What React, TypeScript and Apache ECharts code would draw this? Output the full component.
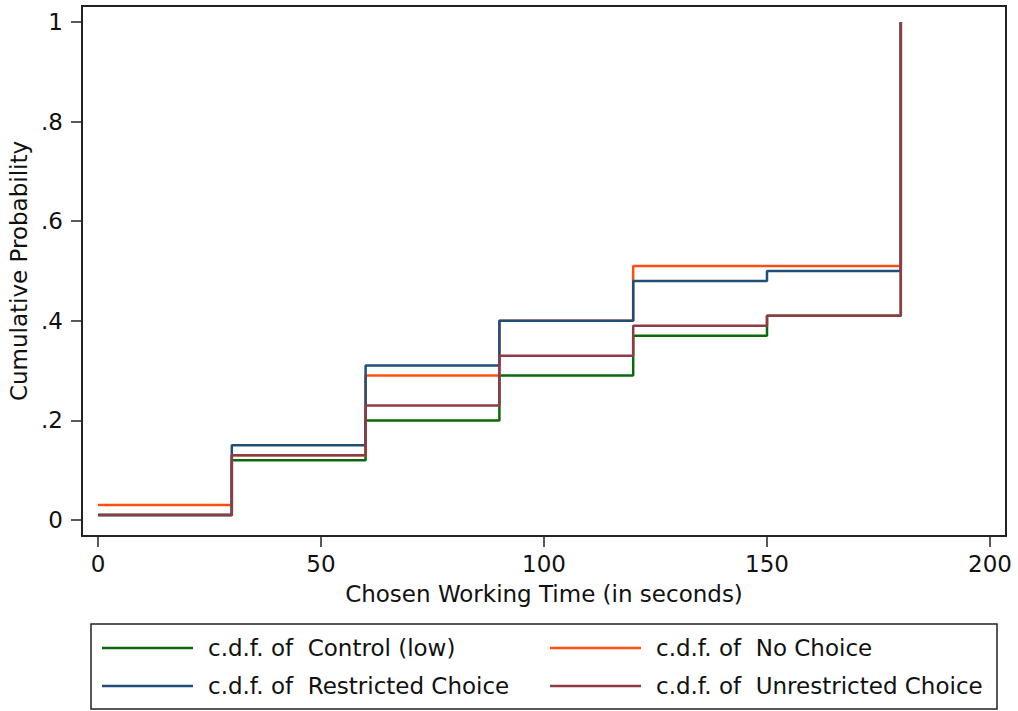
import React, { useEffect, useRef } from "react";
import * as echarts from "echarts";

const times = [0, 30, 60, 90, 120, 150, 180];
const controlLow = [0.01, 0.12, 0.2, 0.29, 0.37, 0.41, 1];
const noChoice = [0.03, 0.13, 0.29, 0.4, 0.51, 0.51, 1];
const restricted = [0.01, 0.15, 0.31, 0.4, 0.48, 0.5, 1];
const unrestricted = [0.01, 0.13, 0.23, 0.33, 0.39, 0.41, 1];

const seriesNames = ["Control (low)", "No Choice", "Restricted Choice", "Unrestricted Choice"];
const seriesColors = ["#0a6a0a", "#ff5010", "#1f4e79", "#8f3b45"];
const seriesValues = [controlLow, noChoice, restricted, unrestricted];

const xTicks = [0, 50, 100, 150, 200];
const yTicks = [0, 0.2, 0.4, 0.6, 0.8, 1];
const yTickLabels = ["0", ".2", ".4", ".6", ".8", "1"];

const FONT = "DejaVu Sans";

// plot region padding (Stata-like) in data units
const X_PAD = 16 / 4.46;
const Y_PAD = 16 / 498;

export default function App() {
  const ref = useRef<HTMLDivElement>(null);

  useEffect(() => {
    if (!ref.current) return;
    const chart = echarts.init(ref.current, undefined, { renderer: "svg" });

    const series = seriesNames.map((name, i) => ({
      name,
      type: "line",
      step: "end",
      showSymbol: false,
      symbol: "none",
      data: times.map((t, j) => [t, seriesValues[i][j]]),
      lineStyle: { color: seriesColors[i], width: 2.5 },
      itemStyle: { color: seriesColors[i] },
      z: 2 + i,
    }));

    const legendPos = [
      { lx: 102, ty: 648 },
      { lx: 550, ty: 648 },
      { lx: 102, ty: 686 },
      { lx: 550, ty: 686 },
    ];
    const legendElems: any[] = [];
    legendElems.push({
      type: "rect",
      shape: { x: 91, y: 624, width: 906, height: 85 },
      style: { fill: "#fff", stroke: "#222", lineWidth: 1.5 },
      z: 10,
    });
    seriesNames.forEach((name, i) => {
      const p = legendPos[i];
      legendElems.push({
        type: "line",
        shape: { x1: p.lx, y1: p.ty, x2: p.lx + 91, y2: p.ty },
        style: { stroke: seriesColors[i], lineWidth: 2.5 },
        z: 11,
      });
      legendElems.push({
        type: "text",
        x: p.lx + 106,
        y: p.ty,
        style: {
          text: "c.d.f. of  " + name,
          font: `23px "${FONT}"`,
          fill: "#111",
          verticalAlign: "middle",
        },
        z: 11,
      });
    });

    chart.setOption({
      animation: false,
      backgroundColor: "#fff",
      textStyle: { fontFamily: FONT },
      grid: {
        left: 82,
        right: 12,
        top: 6,
        bottom: 175,
        containLabel: false,
        outerBoundsMode: "none",
      },
      xAxis: {
        type: "value",
        min: -X_PAD,
        max: 200 + X_PAD,
        name: "Chosen Working Time (in seconds)",
        nameLocation: "middle",
        nameGap: 46,
        nameTextStyle: { fontFamily: FONT, fontSize: 23, color: "#111" },
        axisLine: { show: true, onZero: false, lineStyle: { color: "#222", width: 2 } },
        axisTick: {
          show: true,
          length: 11,
          customValues: xTicks,
          lineStyle: { color: "#222", width: 1.5 },
        },
        axisLabel: {
          fontFamily: FONT,
          fontSize: 23,
          color: "#111",
          margin: 16,
          customValues: xTicks,
          formatter: (v: number) => String(v),
        },
        splitLine: { show: false },
      },
      yAxis: {
        type: "value",
        min: -Y_PAD,
        max: 1 + Y_PAD,
        name: "Cumulative Probability",
        nameLocation: "middle",
        nameGap: 49,
        nameRotate: 90,
        nameTextStyle: { fontFamily: FONT, fontSize: 23, color: "#111" },
        axisLine: { show: true, onZero: false, lineStyle: { color: "#222", width: 2 } },
        axisTick: {
          show: true,
          length: 11,
          customValues: yTicks,
          lineStyle: { color: "#222", width: 1.5 },
        },
        axisLabel: {
          fontFamily: FONT,
          fontSize: 23,
          color: "#111",
          margin: 19,
          customValues: yTicks,
          formatter: (v: number) => {
            const idx = yTicks.findIndex((y) => Math.abs(y - v) < 1e-6);
            return idx >= 0 ? yTickLabels[idx] : "";
          },
        },
        splitLine: { show: false },
      },
      graphic: [
        {
          type: "rect",
          shape: { x: 82, y: 6, width: 924, height: 530 },
          style: { fill: "none", stroke: "#222", lineWidth: 2 },
          z: 20,
          silent: true,
        },
        ...legendElems,
      ],
      series,
    });

    return () => chart.dispose();
  }, []);

  return (
    <div
      ref={ref}
      style={{ position: "fixed", left: 0, top: 0, width: 1018, height: 711, background: "#fff" }}
    />
  );
}
